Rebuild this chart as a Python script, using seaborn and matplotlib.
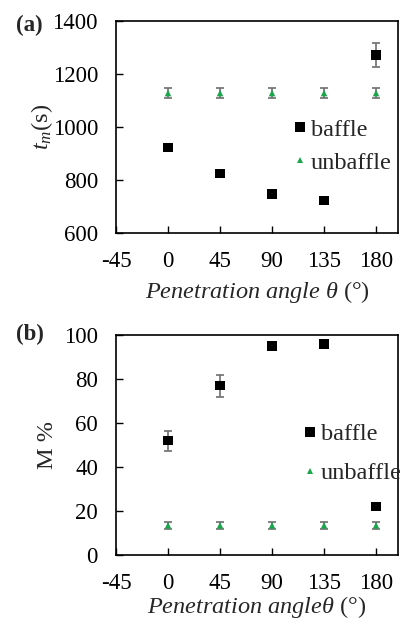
import matplotlib
matplotlib.use("Agg")
import matplotlib.pyplot as plt
from matplotlib.lines import Line2D
import seaborn as sns
import pandas as pd

# Penetration angles (degrees)
angles = [0, 45, 90, 135, 180]

# Mixing time t_m (s)
tm_baffle = [922, 825, 748, 722, 1272]
tm_baffle_err = [8, 12, 6, 6, 45]
tm_unbaffle = [1128, 1128, 1128, 1128, 1128]
tm_unbaffle_err = [20, 20, 20, 20, 20]

# Mixing degree M (%)
m_baffle = [52, 77, 95, 96, 22]
m_baffle_err = [4.5, 5, 1, 1, 1.5]
m_unbaffle = [13.5, 13.5, 13.5, 13.5, 13.5]
m_unbaffle_err = [1.5, 1.5, 1.5, 1.5, 1.5]

xticks = [-45, 0, 45, 90, 135, 180]

sns.set_theme(style="ticks")
plt.rcParams["font.family"] = ["Liberation Serif", "DejaVu Serif"]
plt.rcParams["mathtext.fontset"] = "custom"
plt.rcParams["mathtext.rm"] = "Liberation Serif"
plt.rcParams["mathtext.it"] = "Liberation Serif:italic"

GREEN = "#1aa64b"
FS = 16.5

fig = plt.figure(figsize=(4.0, 6.25), dpi=100)
ax1 = fig.add_axes([0.29, 0.6272, 0.705, 0.3392])
ax2 = fig.add_axes([0.29, 0.112, 0.705, 0.352])


def panel(ax, yb, yb_err, yu, yu_err, ylim, yticks, legend_anchor, spacing):
    df = pd.DataFrame({
        "angle": angles * 2,
        "value": list(yb) + list(yu),
        "err": list(yb_err) + list(yu_err),
        "case": ["baffle"] * len(angles) + ["unbaffle"] * len(angles),
    })
    for case in ["baffle", "unbaffle"]:
        sub = df[df["case"] == case]
        ax.errorbar(sub["angle"], sub["value"], yerr=sub["err"], fmt="none",
                    ecolor="#6e6e6e", elinewidth=1.2, capsize=3, capthick=1.2,
                    zorder=2)
    sns.scatterplot(data=df, x="angle", y="value", hue="case", style="case",
                    markers={"baffle": "s", "unbaffle": "^"},
                    palette={"baffle": "black", "unbaffle": GREEN},
                    size="case", sizes={"baffle": 48, "unbaffle": 22},
                    linewidth=0, ax=ax, zorder=3, legend=False)
    ax.set_xlim(-45, 199)
    ax.set_ylim(*ylim)
    ax.set_xticks(xticks)
    ax.set_xticklabels([str(t) for t in xticks])
    ax.set_yticks(yticks)
    ax.tick_params(direction="in", length=5, width=1, labelsize=FS,
                   colors="black", pad=13)
    ax.tick_params(axis="x", pad=13)
    for s in ax.spines.values():
        s.set_linewidth(1.2)
        s.set_color("black")
    handles = [
        Line2D([], [], ls="none", marker="s", color="black", markersize=7,
               markeredgewidth=0),
        Line2D([], [], ls="none", marker="^", color=GREEN, markersize=5,
               markeredgewidth=0),
    ]
    ax.legend(handles, ["baffle", "unbaffle"], loc="center left",
              bbox_to_anchor=legend_anchor, frameon=False, fontsize=FS + 1,
              handlelength=0.5, handletextpad=0.2, labelspacing=spacing,
              borderpad=0, borderaxespad=0)


panel(ax1, tm_baffle, tm_baffle_err, tm_unbaffle, tm_unbaffle_err,
      (600, 1400), [600, 800, 1000, 1200, 1400], (0.63, 0.41), 0.45)
panel(ax2, m_baffle, m_baffle_err, m_unbaffle, m_unbaffle_err,
      (0, 100), [0, 20, 40, 60, 80, 100], (0.665, 0.46), 0.7)

ax1.set_ylabel(r"$t_m$(s)", fontsize=FS + 1, labelpad=-2)
ax1.set_xlabel(r"$Penetration\ angle\ \theta$ (°)", fontsize=FS + 1,
               labelpad=5)
ax2.set_ylabel("M %", fontsize=FS + 1, labelpad=4)
ax2.set_xlabel(r"$Penetration\ angle\theta$ (°)", fontsize=FS + 1,
               labelpad=0)

fig.text(0.04, 0.96, "(a)", fontsize=FS, fontweight="bold", ha="left",
         va="center")
fig.text(0.04, 0.465, "(b)", fontsize=FS, fontweight="bold", ha="left",
         va="center")

fig.savefig("out.png", dpi=100)
